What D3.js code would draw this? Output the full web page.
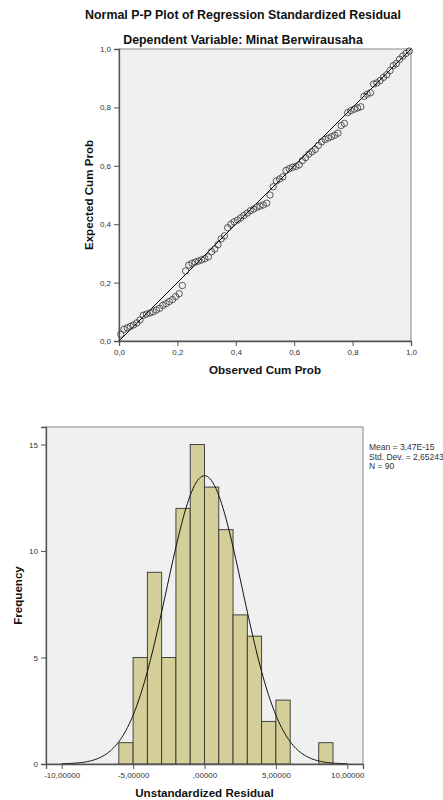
<!DOCTYPE html>
<html>
<head>
<meta charset="utf-8">
<script src="https://cdn.jsdelivr.net/npm/d3@7"></script>
<style>
	body { margin: 0; background: #fff; }
	svg text { font-family: "Liberation Sans", Arial, sans-serif; }
	.tick-label { font-size: 8px; fill: #333; }
	.axis-title { font-size: 11.6px; font-weight: bold; fill: #111; }
	.chart-title { font-size: 12.4px; font-weight: bold; fill: #111; }
</style>
</head>
<body>
<div id="chart"></div>
<script>

// P-P plot: observed vs expected cumulative probability (90 cases)
var observedCumProb = [
	.006, .017, .028, .039, .050, .061, .072, .083, .094, .106,
	.117, .128, .139, .150, .161, .172, .183, .194, .206, .217,
	.228, .239, .250, .261, .272, .283, .294, .306, .317, .328,
	.339, .350, .361, .372, .383, .394, .406, .417, .428, .439,
	.450, .461, .472, .483, .494, .506, .517, .528, .539, .550,
	.561, .572, .583, .594, .606, .617, .628, .639, .650, .661,
	.672, .683, .694, .706, .717, .728, .739, .750, .761, .772,
	.783, .794, .806, .817, .828, .839, .850, .861, .872, .883,
	.894, .906, .917, .928, .939, .950, .961, .972, .983, .994
];
var expectedCumProb = [
	.023, .040, .045, .050, .055, .062, .072, .088, .092, .096,
	.100, .106, .112, .122, .128, .135, .142, .152, .162, .190,
	.240, .260, .266, .270, .274, .278, .282, .288, .306, .315,
	.330, .350, .360, .388, .400, .408, .414, .422, .430, .438,
	.446, .452, .458, .462, .466, .472, .500, .528, .548, .555,
	.562, .584, .590, .595, .598, .603, .618, .628, .640, .648,
	.656, .670, .682, .690, .695, .700, .705, .712, .738, .745,
	.782, .789, .794, .798, .802, .838, .845, .850, .880, .884,
	.892, .903, .912, .926, .943, .950, .965, .976, .985, .993
];
var ppTicks = [0, 0.2, 0.4, 0.6, 0.8, 1.0];

// histogram of unstandardized residuals (bin width 1)
var binStart = [-6, -5, -4, -3, -2, -1, 0, 1, 2, 3, 4, 5, 8];
var binCount = [1, 5, 9, 5, 12, 15, 13, 11, 7, 6, 2, 3, 1];
var histXTicks = [-10, -5, 0, 5, 10];
var histXLabels = ["-10,00000", "-5,00000", ",00000", "5,00000", "10,00000"];
var histYTicks = [0, 5, 10, 15];
var statLines = ["Mean = 3,47E-15", "Std. Dev. = 2,65243", "N = 90"];
var residMean = 3.47e-15, residSd = 2.65243, residN = 90, binWidth = 1;

var svg = d3.select("#chart").append("svg")
	.attr("width", 443)
	.attr("height", 800);

var commaFmt = function(f) {
	return function(d) { return f(d).replace(".", ","); };
};

/* ---------- P-P plot ---------- */
var pp = { left: 119, top: 49, size: 292 };

var ppX = d3.scaleLinear().domain([0, 1]).range([pp.left, pp.left + pp.size]);
var ppY = d3.scaleLinear().domain([0, 1]).range([pp.top + pp.size, pp.top]);

svg.append("text").attr("class", "chart-title")
	.attr("x", 243).attr("y", 19).attr("text-anchor", "middle")
	.text("Normal P-P Plot of Regression Standardized Residual");
svg.append("text").attr("class", "chart-title")
	.attr("x", 243).attr("y", 44).attr("text-anchor", "middle")
	.text("Dependent Variable: Minat Berwirausaha");

svg.append("rect")
	.attr("x", ppX(0)).attr("y", ppY(1))
	.attr("width", ppX(1) - ppX(0)).attr("height", ppY(0) - ppY(1))
	.attr("fill", "#f0f0f0")
	.attr("stroke", "#888");

var ppXAxis = d3.axisBottom(ppX).tickValues(ppTicks).tickSize(5).tickFormat(commaFmt(d3.format(".1f")));
var ppYAxis = d3.axisLeft(ppY).tickValues(ppTicks).tickSize(5).tickFormat(commaFmt(d3.format(".1f")));

svg.append("g").attr("class", "axis")
	.attr("transform", "translate(0," + ppY(0) + ")")
	.call(ppXAxis);
svg.append("g").attr("class", "axis")
	.attr("transform", "translate(" + ppX(0) + ",0)")
	.call(ppYAxis);

// diagonal reference line
svg.append("line")
	.attr("x1", ppX(0)).attr("y1", ppY(0))
	.attr("x2", ppX(1)).attr("y2", ppY(1))
	.attr("stroke", "#000").attr("stroke-width", 1);

svg.append("g").selectAll("circle")
	.data(observedCumProb)
	.enter().append("circle")
	.attr("cx", d => ppX(d))
	.attr("cy", (d, i) => ppY(expectedCumProb[i]))
	.attr("r", 3.2)
	.attr("fill", "none")
	.attr("stroke", "#333")
	.attr("stroke-width", 0.8);

svg.append("text").attr("class", "axis-title")
	.attr("x", ppX(0.5)).attr("y", 374).attr("text-anchor", "middle")
	.text("Observed Cum Prob");
svg.append("text").attr("class", "axis-title")
	.attr("transform", "translate(93," + ppY(0.5) + ") rotate(-90)")
	.attr("text-anchor", "middle")
	.text("Expected Cum Prob");

/* ---------- Histogram ---------- */
var hist = { left: 46, right: 363, top: 427, bottom: 764 };

var hX = d3.scaleLinear().domain([-11.1, 11.1]).range([hist.left, hist.right]);
var hY = d3.scaleLinear().domain([0, 15.82]).range([hist.bottom, hist.top]);

svg.append("rect")
	.attr("x", hist.left).attr("y", hist.top)
	.attr("width", hist.right - hist.left).attr("height", hist.bottom - hist.top)
	.attr("fill", "#f0f0f0")
	.attr("stroke", "#888");

svg.append("g").selectAll("rect")
	.data(binStart)
	.enter().append("rect")
	.attr("x", d => hX(d))
	.attr("width", d => hX(d + binWidth) - hX(d))
	.attr("y", (d, i) => hY(binCount[i]))
	.attr("height", (d, i) => hY(0) - hY(binCount[i]))
	.attr("fill", "#d4cf99")
	.attr("stroke", "#333")
	.attr("stroke-width", 0.9);

// normal curve from the reported mean / std. dev.
var normalPts = d3.range(-10, 10.01, 0.1).map(x => {
	var z = (x - residMean) / residSd;
	return [x, residN * binWidth * Math.exp(-0.5 * z * z) / (residSd * Math.sqrt(2 * Math.PI))];
});
svg.append("path")
	.datum(normalPts)
	.attr("fill", "none")
	.attr("stroke", "#111")
	.attr("stroke-width", 1)
	.attr("d", d3.line().x(d => hX(d[0])).y(d => hY(d[1])));

var hXAxis = d3.axisBottom(hX).tickValues(histXTicks).tickSize(5)
	.tickFormat((d, i) => histXLabels[i]);
var hYAxis = d3.axisLeft(hY).tickValues(histYTicks).tickSize(5);

svg.append("g").attr("class", "axis")
	.attr("transform", "translate(0," + hist.bottom + ")")
	.call(hXAxis);
svg.append("g").attr("class", "axis")
	.attr("transform", "translate(" + hist.left + ",0)")
	.call(hYAxis);

svg.append("text").attr("class", "axis-title")
	.attr("x", hX(0)).attr("y", 797).attr("text-anchor", "middle")
	.text("Unstandardized Residual");
svg.append("text").attr("class", "axis-title")
	.attr("transform", "translate(22," + (hist.top + hist.bottom) / 2 + ") rotate(-90)")
	.attr("text-anchor", "middle")
	.text("Frequency");

svg.append("g").selectAll("text")
	.data(statLines)
	.enter().append("text")
	.attr("class", "tick-label")
	.attr("x", 369)
	.attr("y", (d, i) => 450 + i * 9.5)
	.style("font-size", "8.5px")
	.text(d => d);

// axis styling to look like SPSS output
svg.selectAll(".axis .domain").attr("stroke", "#555").attr("stroke-width", 1.3);
svg.selectAll(".axis .tick line").attr("stroke", "#555");
svg.selectAll(".axis .tick text").attr("class", "tick-label").attr("font-size", null).attr("font-family", null);

</script>
</body>
</html>
